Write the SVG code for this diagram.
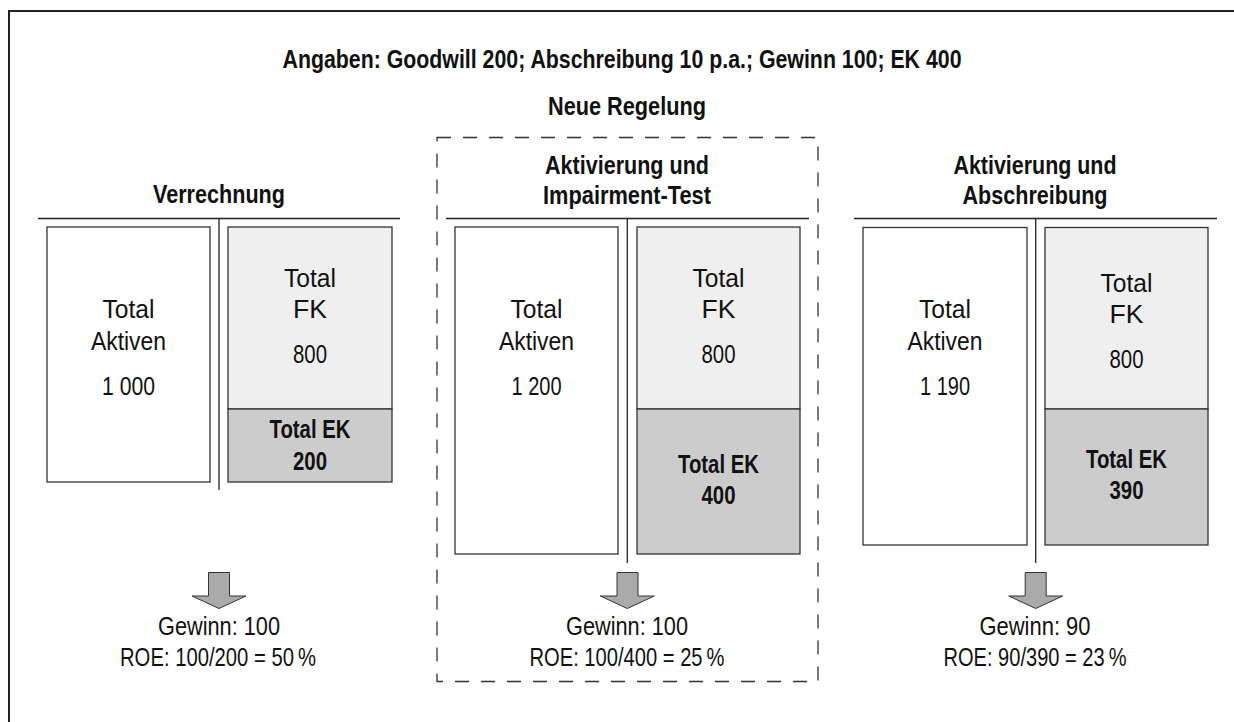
<svg xmlns="http://www.w3.org/2000/svg" width="1234" height="722" viewBox="0 0 1234 722">
<style>
text{font-family:"Liberation Sans",Arial,sans-serif;font-size:25.5px;fill:#111;text-anchor:middle}
.b{font-weight:bold;font-size:25px}
.line{stroke:#222;stroke-width:1.3;fill:none}
.box{stroke:#333;stroke-width:1.3}
.akt{fill:#fff}
.fk{fill:#efefef}
.ek{fill:#cccccc}
.arrow{fill:#aaaaaa;stroke:#333;stroke-width:1}
</style>
<rect width="1234" height="722" fill="#fff"/>
<path d="M9,722 V11 H1234" fill="none" stroke="#222" stroke-width="2"/>
<text class="b" x="622" y="68" textLength="679" lengthAdjust="spacingAndGlyphs">Angaben: Goodwill 200; Abschreibung 10 p.a.; Gewinn 100; EK 400</text>
<text class="b" x="627" y="115" textLength="158" lengthAdjust="spacingAndGlyphs">Neue Regelung</text>
<rect id="neue-regelung" x="437" y="137.5" width="381" height="544" fill="none" stroke="#333" stroke-width="1.3" stroke-dasharray="14 12"/>

<g id="verrechnung">
<text class="b" x="219" y="203" textLength="132" lengthAdjust="spacingAndGlyphs">Verrechnung</text>
<rect class="box akt" x="47" y="227" width="163" height="255"/>
<rect class="box fk" x="228" y="227" width="164" height="182"/>
<rect class="box ek" x="228" y="409" width="164" height="73"/>
<text x="128.5" y="318" textLength="52" lengthAdjust="spacingAndGlyphs">Total</text>
<text x="128.5" y="350" textLength="75" lengthAdjust="spacingAndGlyphs">Aktiven</text>
<text x="128.5" y="395" textLength="53" lengthAdjust="spacingAndGlyphs">1 000</text>
<text x="310" y="287" textLength="52" lengthAdjust="spacingAndGlyphs">Total</text>
<text x="310" y="318" textLength="34" lengthAdjust="spacingAndGlyphs">FK</text>
<text x="310" y="363" textLength="34" lengthAdjust="spacingAndGlyphs">800</text>
<text class="b" x="310" y="438" textLength="81" lengthAdjust="spacingAndGlyphs">Total EK</text>
<text class="b" x="310" y="470" textLength="34" lengthAdjust="spacingAndGlyphs">200</text>
<text x="219" y="635" textLength="122" lengthAdjust="spacingAndGlyphs">Gewinn: 100</text>
<text x="218" y="666" textLength="196" lengthAdjust="spacingAndGlyphs">ROE: 100/200 = 50&#8201;%</text>
</g>

<g id="impairment">
<text class="b" x="627" y="174" textLength="164" lengthAdjust="spacingAndGlyphs">Aktivierung und</text>
<text class="b" x="627" y="204" textLength="168" lengthAdjust="spacingAndGlyphs">Impairment-Test</text>
<rect class="box akt" x="455" y="227" width="163" height="327"/>
<rect class="box fk" x="637" y="227" width="163" height="182"/>
<rect class="box ek" x="637" y="409" width="163" height="145"/>
<text x="536.5" y="318" textLength="52" lengthAdjust="spacingAndGlyphs">Total</text>
<text x="536.5" y="350" textLength="75" lengthAdjust="spacingAndGlyphs">Aktiven</text>
<text x="536.5" y="395" textLength="50" lengthAdjust="spacingAndGlyphs">1 200</text>
<text x="718.5" y="287" textLength="52" lengthAdjust="spacingAndGlyphs">Total</text>
<text x="718.5" y="318" textLength="34" lengthAdjust="spacingAndGlyphs">FK</text>
<text x="718.5" y="363" textLength="34" lengthAdjust="spacingAndGlyphs">800</text>
<text class="b" x="718.5" y="473" textLength="81" lengthAdjust="spacingAndGlyphs">Total EK</text>
<text class="b" x="718.5" y="504" textLength="34" lengthAdjust="spacingAndGlyphs">400</text>
<text x="627" y="635" textLength="122" lengthAdjust="spacingAndGlyphs">Gewinn: 100</text>
<text x="627" y="666" textLength="195" lengthAdjust="spacingAndGlyphs">ROE: 100/400 = 25&#8201;%</text>
</g>

<g id="abschreibung">
<text class="b" x="1035" y="174" textLength="163" lengthAdjust="spacingAndGlyphs">Aktivierung und</text>
<text class="b" x="1035" y="204" textLength="145" lengthAdjust="spacingAndGlyphs">Abschreibung</text>
<rect class="box akt" x="863" y="227.5" width="164" height="317.5"/>
<rect class="box fk" x="1045" y="227.5" width="163" height="181.5"/>
<rect class="box ek" x="1045" y="409" width="163" height="136"/>
<text x="945" y="318" textLength="52" lengthAdjust="spacingAndGlyphs">Total</text>
<text x="945" y="350" textLength="75" lengthAdjust="spacingAndGlyphs">Aktiven</text>
<text x="945" y="395" textLength="50" lengthAdjust="spacingAndGlyphs">1 190</text>
<text x="1126.5" y="292" textLength="52" lengthAdjust="spacingAndGlyphs">Total</text>
<text x="1126.5" y="323" textLength="34" lengthAdjust="spacingAndGlyphs">FK</text>
<text x="1126.5" y="368" textLength="34" lengthAdjust="spacingAndGlyphs">800</text>
<text class="b" x="1126.5" y="468" textLength="81" lengthAdjust="spacingAndGlyphs">Total EK</text>
<text class="b" x="1126.5" y="499" textLength="34" lengthAdjust="spacingAndGlyphs">390</text>
<text x="1035" y="635" textLength="111" lengthAdjust="spacingAndGlyphs">Gewinn: 90</text>
<text x="1035" y="666" textLength="183" lengthAdjust="spacingAndGlyphs">ROE: 90/390 = 23&#8201;%</text>
</g>

<g id="connectors">
<path class="line" d="M38,218.5 H400 M219,218.5 V490"/>
<path class="line" d="M446,218.5 H809 M627.3,218.5 V563"/>
<path class="line" d="M854,218.5 H1217 M1035.7,218.5 V563"/>
<path class="arrow" d="M208.5,572.5 H229.5 V596 H246 L219,608.5 L192,596 H208.5 Z"/>
<path class="arrow" d="M617,572.5 H638 V596 H654.3 L627.3,608.5 L600.3,596 H617 Z"/>
<path class="arrow" d="M1025.2,572.5 H1046.2 V596 H1062.7 L1035.7,608.5 L1008.7,596 H1025.2 Z"/>
</g>
</svg>
